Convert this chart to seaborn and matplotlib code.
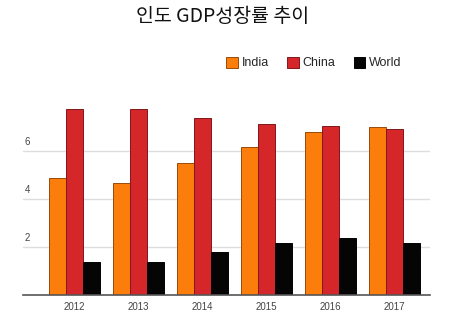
import matplotlib
matplotlib.use("Agg")
import matplotlib.pyplot as plt
import seaborn as sns
import pandas as pd

years = ["2012", "2013", "2014", "2015", "2016", "2017"]
india = [4.9, 4.7, 5.5, 6.2, 6.8, 7.0]
china = [7.75, 7.75, 7.4, 7.15, 7.05, 6.95]
world = [1.4, 1.4, 1.8, 2.2, 2.4, 2.2]
series = ["India", "China", "World"]
yticks = [2, 4, 6]
title = "인도 GDP성장률 추이"

df = pd.DataFrame({
    "year": years * 3,
    "value": india + china + world,
    "series": [s for s in series for _ in years],
})

sns.set_theme(style="white")
plt.rcParams['font.family'] = ['Liberation Sans', 'DejaVu Sans']

fig = plt.figure(figsize=(4.58, 3.27), dpi=100)
ax = fig.add_axes([23/458, (327-295.3)/327, (430-23)/458, (295.3-95)/327])

palette = {"India": "#fb7d0c", "China": "#d5262a", "World": "#050505"}
sns.barplot(data=df, x="year", y="value", hue="series", order=years,
            hue_order=series, palette=palette, width=0.8, ax=ax,
            saturation=1, linewidth=0.7, edgecolor="#7a1a14", legend=True)
for bar in ax.patches:
    fc = bar.get_facecolor()
    bar.set_edgecolor((fc[0]*0.6, fc[1]*0.6, fc[2]*0.6, 1))

ax.set_xlim(-0.80, 5.55)
ax.set_ylim(0, 8.35)
ax.set_yticks([])
ax.set_xlabel("")
ax.set_ylabel("")
for s in ["top", "right", "left"]:
    ax.spines[s].set_visible(False)
ax.spines["bottom"].set_color("#555555")
ax.spines["bottom"].set_linewidth(1.2)
for t in yticks:
    ax.axhline(t, color="#dddddd", linewidth=1, zorder=0)
    ax.text(-0.77, t + 0.18, str(t), fontsize=7, color="#444444",
            ha="left", va="bottom")
ax.set_axisbelow(True)
ax.tick_params(axis="x", length=0, labelsize=7, labelcolor="#444444", pad=5)

handles, labels = ax.get_legend_handles_labels()
ax.legend_.remove()
fig.legend(handles, labels, loc="center", bbox_to_anchor=(314/458, (327-63)/327),
           ncol=3, frameon=False, fontsize=9, handlelength=0.9, handleheight=1.0,
           handletextpad=0.3, columnspacing=1.5)

fig.text(223/458, (327-17)/327, title, ha="center", va="center", fontsize=14,
         family=['Noto Sans CJK KR', 'DejaVu Sans'], color="#111111")

fig.savefig("out.png", dpi=100)
